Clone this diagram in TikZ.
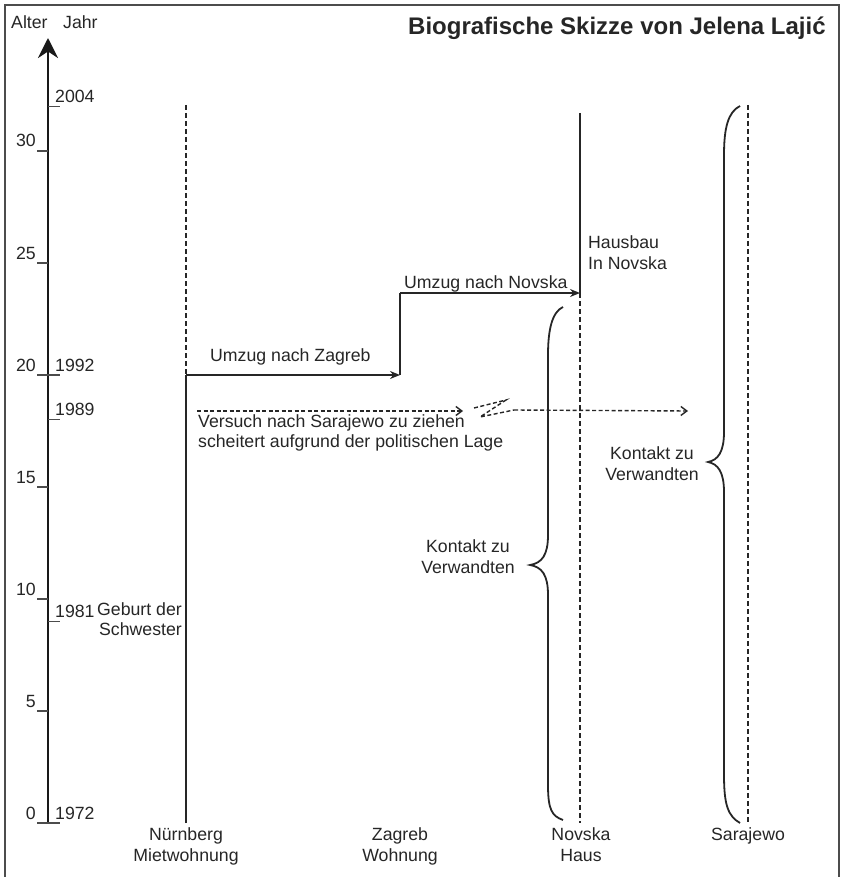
\documentclass[tikz,border=0pt]{standalone}
\usepackage{fontspec}
\setmainfont{Liberation Sans}
\usetikzlibrary{arrows.meta}
\tikzset{
  lbl/.style={inner sep=0pt, font=\fontsize{17.7}{21}\selectfont, text=black!85},
  solidline/.style={line width=2pt, black!85},
  dashline/.style={line width=1.6pt, black!85, dash pattern=on 5pt off 3pt},
  thindash/.style={line width=1.4pt, black!85, dash pattern=on 4pt off 2.5pt},
  tickline/.style={line width=1.3pt, black!70},
  bracepath/.style={line width=1.8pt, black!85},
  arr/.style={-{Stealth[length=10pt,width=8pt]}},
  openarr/.style={-{Straight Barb[length=6pt,width=9pt,line width=1.4pt]}}
}
\begin{document}
\begin{tikzpicture}[x=1pt,y=-1pt]
\useasboundingbox (0,0) rectangle (844,877);
% frame
\draw[line width=2pt, black!70] (5,880) -- (5,5) -- (839,5) -- (839,880);
% title
\node[lbl, font=\fontsize{24}{28}\selectfont\bfseries, anchor=base west] (title) at (408,35) {Biografische Skizze von Jelena Laji\'c};
% axis
\coordinate (axBot) at (48,823);
\coordinate (axTop) at (48,38);
\draw[line width=2.6pt, black!90, -{Stealth[length=20pt,width=20pt]}] (axBot) -- (axTop);
\node[lbl, anchor=base west] (alter) at (11,29) {Alter};
\node[lbl, anchor=base west] (jahr) at (63,29) {Jahr};
% age ticks
\foreach \a/\t in {0/0,5/5,10/10,15/15,20/20,25/25,30/30}{
  \pgfmathsetmacro{\yy}{823-22.4*\a}
  \coordinate (age\a) at (37,\yy);
  \coordinate (ageR\a) at (48,\yy);
  \draw[tickline] (age\a) -- (ageR\a);
  \node[lbl, anchor=base east] (agel\a) at (36,\yy-4) {\t};
}
% year ticks
\foreach \a/\t in {0/1972,9/1981,18/1989,20/1992,32/2004}{
  \pgfmathsetmacro{\yy}{823-22.4*\a}
  \coordinate (yrL\t) at (48,\yy);
  \coordinate (yrR\t) at (60,\yy);
  \draw[tickline] (yrL\t) -- (yrR\t);
  \node[lbl, anchor=base west] (yrl\t) at (55,\yy-4) {\t};
}
\node[lbl, anchor=base east] (geb1) at (182,615) {Geburt der};
\node[lbl, anchor=base east] (geb2) at (182,635) {Schwester};
% columns
\coordinate (nbTop) at (186,105);
\coordinate (nbMid) at (186,375);
\coordinate (nbBot) at (186,823);
\coordinate (zgLow) at (400,375);
\coordinate (zgHigh) at (400,293);
\coordinate (nvTop) at (580,113);
\coordinate (nvMid) at (580,293);
\coordinate (nvBot) at (580,823);
\coordinate (sjTop) at (748,105);
\coordinate (sjBot) at (748,823);
\draw[dashline] (nbTop) -- (nbMid);
\draw[solidline] (nbBot) -- (nbMid);
\draw[solidline, arr] (nbMid) -- (zgLow);
\draw[solidline] (zgLow) -- (zgHigh);
\draw[solidline, arr] (zgHigh) -- (nvMid);
\draw[solidline] (nvTop) -- (nvMid);
\draw[dashline] (nvMid) -- (nvBot);
\draw[dashline] (sjTop) -- (sjBot);
\node[lbl, anchor=base west] (uz1) at (210,361) {Umzug nach Zagreb};
\node[lbl, anchor=base west] (uz2) at (404,288) {Umzug nach Novska};
\node[lbl, anchor=base west] (hb1) at (588,248) {Hausbau};
\node[lbl, anchor=base west] (hb2) at (588,269) {In Novska};
% failed attempt
\coordinate (vsStart) at (197,411);
\coordinate (vsEnd) at (463,411);
\coordinate (zz1) at (474,408);
\coordinate (zz2) at (506,400);
\coordinate (zz3) at (480,417);
\coordinate (zz4) at (514,410);
\coordinate (vsTarget) at (688,411);
\draw[thindash, openarr] (vsStart) -- (vsEnd);
\draw[thindash] (zz1) -- (zz2) -- (zz3) -- (zz4);
\draw[thindash, openarr] (zz4) -- (vsTarget);
\node[lbl, anchor=base west] (vs1) at (198,427) {Versuch nach Sarajewo zu ziehen};
\node[lbl, anchor=base west] (vs2) at (198,447) {scheitert aufgrund der politischen Lage};
% braces
\draw[bracepath] (563,307) .. controls (552,312) and (548,330) .. (548,355) -- (548,535)
  .. controls (548,555) and (542,563) .. (530,565) .. controls (542,567) and (548,575) .. (548,595)
  -- (548,785) .. controls (548,810) and (552,816) .. (563,820);
\draw[bracepath] (740,106) .. controls (728,112) and (724,128) .. (724,155) -- (724,432)
  .. controls (724,452) and (718,460) .. (708,462) .. controls (718,464) and (724,472) .. (724,492)
  -- (724,775) .. controls (724,805) and (728,816) .. (740,823);
\node[lbl, anchor=base] (k1a) at (468,552) {Kontakt zu};
\node[lbl, anchor=base] (k1b) at (468,573) {Verwandten};
\node[lbl, anchor=base] (k2a) at (652,459) {Kontakt zu};
\node[lbl, anchor=base] (k2b) at (652,480) {Verwandten};
% bottom labels
\node[lbl, anchor=base] (nb1) at (186,840) {Nürnberg};
\node[lbl, anchor=base] (nb2) at (186,861) {Mietwohnung};
\node[lbl, anchor=base] (zg1) at (400,840) {Zagreb};
\node[lbl, anchor=base] (zg2) at (400,861) {Wohnung};
\node[lbl, anchor=base] (nv1) at (581,840) {Novska};
\node[lbl, anchor=base] (nv2) at (581,861) {Haus};
\node[lbl, anchor=base] (sj1) at (748,840) {Sarajewo};
\end{tikzpicture}
\end{document}
